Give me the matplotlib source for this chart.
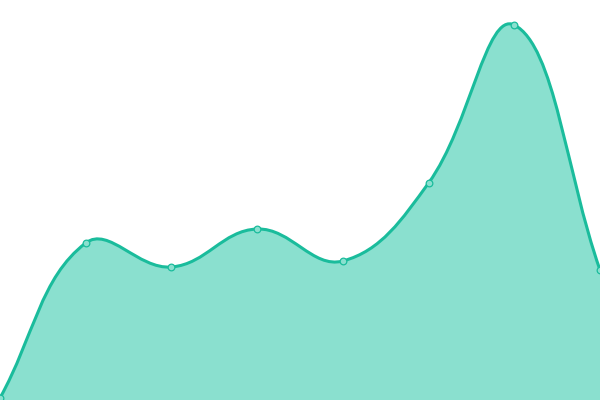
import numpy as np
import matplotlib
matplotlib.use("Agg")
import matplotlib.pyplot as plt
from matplotlib.path import Path
from matplotlib.patches import PathPatch

# data
labels = ["1", "2", "3", "4", "5", "6", "7", "8"]
values = [2, 157, 133, 171, 139, 217, 375, 130]

line_color = "#1abc9c"
fill_color = "#8ae0cf"
tension = 0.4

W, H = 600, 400
fig = plt.figure(figsize=(W / 100, H / 100), dpi=100)
ax = fig.add_axes([0, 0, 1, 1])
ax.set_xlim(0, len(values) - 1)
ax.set_ylim(0, 400)
ax.axis("off")

# control points computed in pixel space (chart.js style spline)
xs = np.arange(len(values), dtype=float)
sx = W / (len(values) - 1)
px = xs * sx
py = np.array(values, dtype=float)
n = len(values)
cps = []
for i in range(n):
    prev = (px[max(i - 1, 0)], py[max(i - 1, 0)])
    cur = (px[i], py[i])
    nxt = (px[min(i + 1, n - 1)], py[min(i + 1, n - 1)])
    d01 = np.hypot(cur[0] - prev[0], cur[1] - prev[1])
    d12 = np.hypot(nxt[0] - cur[0], nxt[1] - cur[1])
    tot = d01 + d12
    s01 = d01 / tot if tot else 0
    s12 = d12 / tot if tot else 0
    fa, fb = tension * s01, tension * s12
    c_prev = (cur[0] - fa * (nxt[0] - prev[0]), cur[1] - fa * (nxt[1] - prev[1]))
    c_next = (cur[0] + fb * (nxt[0] - prev[0]), cur[1] + fb * (nxt[1] - prev[1]))
    c_prev = (min(max(c_prev[0], 0), W), min(max(c_prev[1], 0), H))
    c_next = (min(max(c_next[0], 0), W), min(max(c_next[1], 0), H))
    cps.append((c_prev, c_next))

verts = [(xs[0], py[0])]
codes = [Path.MOVETO]
for i in range(n - 1):
    a = cps[i][1]
    b = cps[i + 1][0]
    verts += [(a[0] / sx, a[1]), (b[0] / sx, b[1]), (xs[i + 1], py[i + 1])]
    codes += [Path.CURVE4] * 3

line_path = Path(verts, codes)
fill_path = Path(verts + [(xs[-1], 0), (xs[0], 0), (xs[0], py[0])],
                 codes + [Path.LINETO, Path.LINETO, Path.CLOSEPOLY])

ax.add_patch(PathPatch(fill_path, facecolor=fill_color, edgecolor="none", zorder=1))
ax.add_patch(PathPatch(line_path, facecolor="none", edgecolor=line_color,
                       linewidth=2.2, zorder=2, capstyle="round", joinstyle="round"))
ax.plot(xs, values, linestyle="none", marker="o", markersize=4.8,
        markerfacecolor=fill_color, markeredgecolor=line_color,
        markeredgewidth=0.9, zorder=3, clip_on=True)

fig.savefig("out.png", dpi=100)
